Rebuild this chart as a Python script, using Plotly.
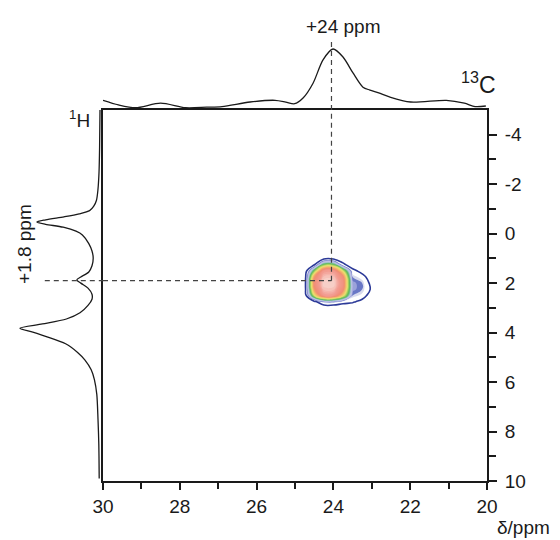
import plotly.graph_objects as go

# ---------------- data ----------------
# 13C projection (top): chemical shift (ppm) and relative intensity
c13_ppm = [30.0, 29.6, 29.15, 28.5, 27.85, 27.3, 26.9, 26.17, 25.52, 25.24, 25.01,
           24.79, 24.53, 24.27, 24.01, 23.75, 23.49, 23.23, 23.05, 22.82, 22.54,
           21.99, 21.06, 20.59, 20.31, 20.03]
c13_int = [0.10, 0.02, -0.03, 0.05, -0.03, -0.02, -0.01, 0.07, 0.10, 0.07, 0.04,
           0.14, 0.40, 0.81, 1.00, 0.86, 0.58, 0.33, 0.28, 0.23, 0.16,
           0.07, 0.10, 0.05, -0.01, 0.00]

# 1H projection (left): chemical shift (ppm) and relative intensity
h1_ppm = [-5.0, -3.5, -2.5, -1.8, -1.34, -1.1, -0.93, -0.8, -0.68, -0.56, -0.47,
          -0.38, -0.26, -0.1, 0.05, 0.4, 0.7, 0.98, 1.3, 1.55, 1.75, 1.87, 2.0,
          2.2, 2.45, 2.65, 2.9, 3.2, 3.45, 3.65, 3.82, 3.98, 4.15, 4.45, 4.8,
          5.1, 5.5, 5.9, 6.5, 7.5, 8.5, 9.9]
h1_int = [0.0, 0.005, 0.012, 0.025, 0.045, 0.08, 0.13, 0.26, 0.45, 0.68, 0.79,
          0.68, 0.46, 0.30, 0.22, 0.14, 0.10, 0.085, 0.10, 0.14, 0.24, 0.29, 0.24,
          0.15, 0.10, 0.10, 0.15, 0.25, 0.42, 0.72, 1.00, 0.84, 0.68, 0.43, 0.28,
          0.19, 0.11, 0.07, 0.04, 0.025, 0.015, 0.01]

# 2D correlation map (13C x 1H), estimated intensities
map_c13 = [25.0, 24.75, 24.5, 24.25, 24.0, 23.75, 23.5, 23.25, 23.0, 22.75]
map_h1 = [0.75, 1.0, 1.25, 1.5, 1.75, 2.0, 2.25, 2.5, 2.75, 3.0]
map_int = [
    [0, 0, 0, 0, 0, 0, 0, 0, 0, 0],
    [0, 0, 0, 0.6, 0.6, 0.2, 0, 0, 0, 0],
    [0, 0, 0.8, 4.5, 4.5, 1.3, 0.2, 0, 0, 0],
    [0, 0, 4.5, 8.7, 8.7, 5.5, 1.4, 0.5, 0, 0],
    [0, 0.2, 7.2, 9.6, 9.6, 7.8, 2.0, 1.5, 0.2, 0],
    [0, 0.3, 7.7, 10, 10, 8.2, 2.4, 2.0, 0.6, 0],
    [0, 0.3, 7.2, 9.6, 9.6, 7.8, 2.4, 2.0, 0.8, 0],
    [0, 0.1, 5.5, 8.7, 8.7, 6.0, 2.0, 1.6, 0.3, 0],
    [0, 0, 0.6, 2.2, 2.2, 1.5, 1.2, 0.6, 0, 0],
    [0, 0, 0, 0, 0, 0, 0, 0, 0, 0],
]

# crosshair position and labels
cross_c13 = 24.05
cross_h1 = 1.9
cross_c13_label = "+24 ppm"
cross_h1_label = "+1.8 ppm"

x_ticks = [30, 28, 26, 24, 22, 20]
x_minor = [29, 27, 25, 23, 21]
y_ticks = [-4, -2, 0, 2, 4, 6, 8, 10]
y_tick_text = ["-4", "-2", "0", "2", "4", "6", "8", "10"]
y_minor = [-3, -1, 1, 3, 5, 7, 9]

# ---------------- figure ----------------
# the page body has an 8px margin: the figure is drawn at (8, 8) in the window
OFF = 8
W, H = 560 - OFF, 540 - OFF
FONT = "Liberation Sans, Arial, sans-serif"
INK = "#1a1a1a"


def fx(px):
    return (px - OFF) / W


def fy(py):
    return 1 - (py - OFF) / H


colorscale = [
    [0.0, "rgba(255,255,255,0)"], [0.095, "rgba(255,255,255,0)"],
    [0.10, "#3848a8"], [0.13, "#7482cc"], [0.17, "#b8bae4"], [0.25, "#c0c4e6"],
    [0.30, "#7cc0a0"], [0.36, "#5ab65a"], [0.45, "#b0d460"], [0.52, "#ece274"],
    [0.62, "#f4b66a"], [0.72, "#f08c72"], [0.88, "#f29c92"], [1.0, "#f8d6ce"],
]

fig = go.Figure()

fig.add_trace(go.Contour(
    x=map_c13, y=map_h1, z=map_int, xaxis="x", yaxis="y",
    zmin=0, zmax=10, colorscale=colorscale, showscale=False,
    contours=dict(coloring="fill", start=1, end=10, size=0.25, showlines=False),
    line=dict(smoothing=1.3, width=0), hoverinfo="skip",
))
fig.add_trace(go.Contour(
    x=map_c13, y=map_h1, z=map_int, xaxis="x", yaxis="y",
    showscale=False,
    contours=dict(coloring="none", start=1, end=1, size=1),
    line=dict(smoothing=1.3, width=1.6, color="#2c3a98"), hoverinfo="skip",
))

# top projection (13C)
fig.add_trace(go.Scatter(
    x=c13_ppm, y=c13_int, xaxis="x", yaxis="y2", mode="lines",
    line=dict(color=INK, width=1.3, shape="spline", smoothing=0.8),
    hoverinfo="skip",
))
# left projection (1H)
fig.add_trace(go.Scatter(
    x=h1_int, y=h1_ppm, xaxis="x2", yaxis="y", mode="lines",
    line=dict(color=INK, width=1.3, shape="spline", smoothing=0.8),
    hoverinfo="skip",
))

dash = dict(color="#444444", width=1.2, dash="5px,4px")
shapes = [
    dict(type="line", xref="x", yref="y", x0=cross_c13, x1=cross_c13,
         y0=cross_h1, y1=-5, line=dash),
    dict(type="line", xref="x", yref="y2", x0=cross_c13, x1=cross_c13,
         y0=-0.07, y1=1.16, line=dash),
    dict(type="line", xref="x", yref="y", x0=30, x1=cross_c13,
         y0=cross_h1, y1=cross_h1, line=dash),
    dict(type="line", xref="x2", yref="y", x0=0.69, x1=-0.0375,
         y0=cross_h1, y1=cross_h1, line=dash),
]

axis_common = dict(showgrid=False, zeroline=False, showline=True, linewidth=2,
                   linecolor=INK, ticks="outside", tickwidth=2, tickcolor=INK,
                   mirror=True, automargin=False,
                   tickfont=dict(family=FONT, size=19, color=INK))


def label(text, px, py, size, angle=0, xanchor="center"):
    return dict(text=text, xref="paper", yref="paper", x=fx(px), y=fy(py),
                xanchor=xanchor, yanchor="middle", textangle=angle,
                showarrow=False, font=dict(family=FONT, size=size, color=INK))


fig.update_layout(
    width=W, height=H, margin=dict(l=0, r=0, t=0, b=0, pad=0), autosize=False,
    paper_bgcolor="white", plot_bgcolor="white", showlegend=False,
    font=dict(family=FONT, color=INK),
    xaxis=dict(domain=[fx(103), fx(487)], range=[30, 20], anchor="y",
               tickvals=x_ticks, ticklen=7,
               minor=dict(tickvals=x_minor, ticks="outside", ticklen=6,
                          tickwidth=2, tickcolor=INK),
               **axis_common),
    yaxis=dict(domain=[fy(481), fy(110)], range=[10, -5], anchor="x",
               side="right", tickvals=y_ticks, ticktext=y_tick_text, ticklen=8,
               ticklabelstandoff=4,
               minor=dict(tickvals=y_minor, ticks="outside", ticklen=7,
                          tickwidth=2, tickcolor=INK),
               **axis_common),
    xaxis2=dict(domain=[0, fx(103)], range=[(100 - OFF) / 80, -0.0375],
                anchor="y", visible=False, automargin=False),
    yaxis2=dict(domain=[fy(110), fy(35)], range=[-0.07, 1.246], anchor="x",
                visible=False, automargin=False),
    shapes=shapes,
    annotations=[
        label(cross_c13_label, 343, 26, 19),
        label(cross_h1_label, 25, 244, 19, angle=-90),
        label("<sup>1</sup>H", 92, 119, 19, xanchor="right"),
        label("<sup>13</sup>C", 478, 83, 23),
        label("δ/ppm", 523, 527, 19),
    ],
)

fig.write_html("out.html")
